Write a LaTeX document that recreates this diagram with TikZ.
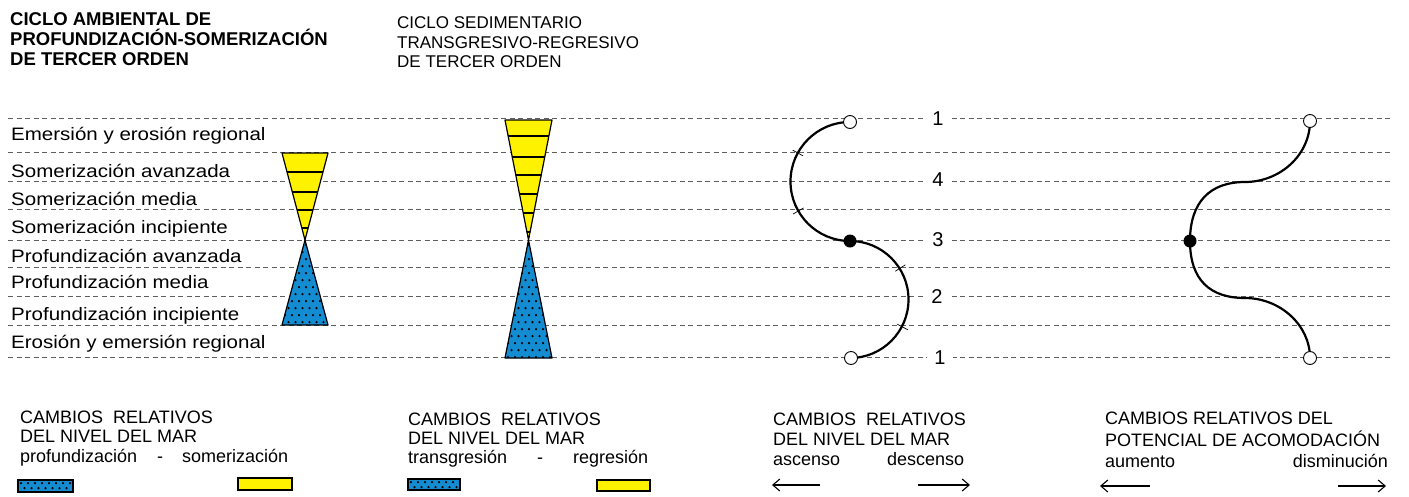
\documentclass[tikz,border=0pt]{standalone}
\usepackage{fontspec}
\setmainfont{Liberation Sans}
\newfontfamily\labfont[FakeStretch=1.14]{Liberation Sans}
\usetikzlibrary{arrows.meta}
\definecolor{seablue}{RGB}{20,140,210}
\definecolor{shallowyel}{RGB}{255,242,0}
\definecolor{dashgray}{RGB}{95,95,95}
% #1 x0, #2 x0+7, #3 xmax, #4 y0, #5 y0+7, #6 ymax
\newcommand{\bluedots}[6]{%
  \foreach \yy in {#4,#5,...,#6}{%
    \pgfmathsetmacro{\off}{mod(round((\yy-#4)/7),2)*3.5}%
    \foreach \xx in {#1,#2,...,#3}{%
      \fill[black] (\xx+\off,\yy) circle[radius=1.25];}}}
\tikzset{
  dashline/.style={draw=dashgray,line width=0.9pt,dash pattern=on 5pt off 3.5pt},
  tri/.style={draw=black,line width=1.2pt,line join=round},
  stripe/.style={draw=black,line width=1.6pt},
  lab/.style={anchor=base west,inner sep=0pt,font=\labfont\fontsize{18}{20}\selectfont},
  titb/.style={anchor=base west,inner sep=0pt,font=\fontsize{18.5}{20}\selectfont\bfseries},
  titr/.style={anchor=base west,inner sep=0pt,font=\fontsize{17}{20}\selectfont},
  leg/.style={anchor=base west,inner sep=0pt,font=\fontsize{18}{20}\selectfont},
  numlab/.style={fill=white,inner xsep=7pt,inner ysep=1pt,font=\fontsize{20}{22}\selectfont},
  curve/.style={draw=black,line width=2.2pt},
  opencirc/.style={circle,draw=black,fill=white,line width=0.9pt,minimum size=13pt,inner sep=0pt},
  fullcirc/.style={circle,fill=black,minimum size=13pt,inner sep=0pt},
  tick/.style={draw=black,line width=0.7pt},
  legarrow/.style={draw=black,line width=1.1pt,-{Straight Barb[length=7pt,width=12pt]}},
  legbox/.style={draw=black,line width=1.1pt}
}
\begin{document}
\begin{tikzpicture}[x=1pt,y=-1pt]
\useasboundingbox (0,0) rectangle (1409,496);
\fill[white] (0,0) rectangle (1409,496);

% titles
\node[titb] (ta1) at (10,25) {CICLO AMBIENTAL DE};
\node[titb] (ta2) at (10,45) {PROFUNDIZACIÓN-SOMERIZACIÓN};
\node[titb] (ta3) at (10,65) {DE TERCER ORDEN};
\node[titr] (tb1) at (397,28) {CICLO SEDIMENTARIO};
\node[titr] (tb2) at (397,48) {TRANSGRESIVO-REGRESIVO};
\node[titr] (tb3) at (397,67) {DE TERCER ORDEN};

% dashed horizontal guide lines
\foreach \yy in {118,152,181,209,240,267,296,325,357}
  \draw[dashline] (8,\yy) -- (1393,\yy);

% left labels
\node[lab] (l1) at (11,140) {Emersión y erosión regional};
\node[lab] (l2) at (11,177) {Somerización avanzada};
\node[lab] (l3) at (11,205) {Somerización media};
\node[lab] (l4) at (11,233) {Somerización incipiente};
\node[lab] (l5) at (11,262) {Profundización avanzada};
\node[lab] (l6) at (11,288) {Profundización media};
\node[lab] (l7) at (11,320) {Profundización incipiente};
\node[lab] (l8) at (11,348) {Erosión y emersión regional};

% hourglass 1
\begin{scope}
  \clip (282,153) -- (328,153) -- (305,240) -- cycle;
  \fill[shallowyel] (270,150) rectangle (340,242);
  \foreach \yy in {172,192,210,228} \draw[stripe] (270,\yy) -- (340,\yy);
\end{scope}
\draw[tri] (282,153) -- (328,153) -- (305,240) -- cycle;
\begin{scope}
  \clip (305,240) -- (282,325) -- (328,325) -- cycle;
  \fill[seablue] (270,238) rectangle (340,327);
  \bluedots{278}{285}{330}{245}{252}{325}
\end{scope}
\draw[tri] (305,240) -- (282,325) -- (328,325) -- cycle;

% hourglass 2
\begin{scope}
  \clip (505,120) -- (552,120) -- (528.5,240) -- cycle;
  \fill[shallowyel] (495,118) rectangle (560,242);
  \foreach \yy in {136,157,175,194,213,232} \draw[stripe] (495,\yy) -- (560,\yy);
\end{scope}
\draw[tri] (505,120) -- (552,120) -- (528.5,240) -- cycle;
\begin{scope}
  \clip (528.5,240) -- (505,358) -- (552,358) -- cycle;
  \fill[seablue] (495,238) rectangle (560,360);
  \bluedots{501}{508}{556}{245}{252}{358}
\end{scope}
\draw[tri] (528.5,240) -- (505,358) -- (552,358) -- cycle;

% curve 1: sea level
\node[numlab] (n1) at (938,119) {1};
\node[numlab] (n4) at (938,180) {4};
\node[numlab] (n3) at (938,240) {3};
\node[numlab] (n2) at (937,297) {2};
\node[numlab] (n5) at (940,358) {1};
\coordinate (ca) at (850,122);
\coordinate (cb) at (850,241);
\coordinate (cc) at (851,358);
\draw[curve] (ca) arc[start angle=270,end angle=90,radius=59.5]
             arc[start angle=-90,end angle=90,radius=58.5];
\draw[tick] (803.1,155.9) -- (792.6,150.1);
\draw[tick] (803.5,208.0) -- (793.1,214.0);
\draw[tick] (895.3,271.2) -- (905.4,264.8);
\draw[tick] (897.3,324.2) -- (907.9,329.8);
\node[opencirc] (c1top) at (ca) {};
\node[fullcirc] (c1mid) at (cb) {};
\node[opencirc] (c1bot) at (cc) {};

% curve 2: accommodation
\coordinate (da) at (1310,121);
\coordinate (db) at (1190,241);
\coordinate (dc) at (1310,358);
\draw[curve] (da) .. controls (1310,155) and (1280,182) .. (1245,182)
   .. controls (1210,182) and (1190,202) .. (db)
   .. controls (1190,280) and (1210,298) .. (1245,298)
   .. controls (1280,298) and (1310,325) .. (dc);
\node[opencirc] (c2top) at (da) {};
\node[fullcirc] (c2mid) at (db) {};
\node[opencirc] (c2bot) at (dc) {};

% legend column 1
\node[leg] (a1) at (20,423) {CAMBIOS\ \ RELATIVOS};
\node[leg] (a2) at (20,442) {DEL NIVEL DEL MAR};
\node[leg] (a3) at (20,462) {profundización};
\node[leg,anchor=base] (a4) at (160,462) {-};
\node[leg] (a5) at (182,462) {somerización};
\begin{scope}
  \clip (18,480) rectangle (73,492);
  \fill[seablue] (18,480) rectangle (73,492);
  \bluedots{21}{28}{73}{483}{488}{492}
\end{scope}
\draw[legbox] (18,480) rectangle (73,492);
\fill[shallowyel] (238,478) rectangle (292,490);
\draw[legbox] (238,478) rectangle (292,490);

% legend column 2
\node[leg] (b1) at (408,425) {CAMBIOS\ \ RELATIVOS};
\node[leg] (b2) at (408,444) {DEL NIVEL DEL MAR};
\node[leg] (b3) at (408,463) {transgresión};
\node[leg,anchor=base] (b4) at (540,463) {-};
\node[leg] (b5) at (573,463) {regresión};
\begin{scope}
  \clip (408,479) rectangle (460,490);
  \fill[seablue] (408,479) rectangle (460,490);
  \bluedots{411}{418}{460}{482}{487}{490}
\end{scope}
\draw[legbox] (408,479) rectangle (460,490);
\fill[shallowyel] (597,480) rectangle (650,491);
\draw[legbox] (597,480) rectangle (650,491);

% legend column 3
\node[leg] (e1) at (773,425) {CAMBIOS\ \ RELATIVOS};
\node[leg] (e2) at (773,445) {DEL NIVEL DEL MAR};
\node[leg] (e3) at (773,465) {ascenso};
\node[leg] (e4) at (887,465) {descenso};
\coordinate (e5a) at (820,485);
\coordinate (e5b) at (772,485);
\coordinate (e6a) at (918,485);
\coordinate (e6b) at (970,485);
\draw[legarrow] (e5a) -- (e5b);
\draw[legarrow] (e6a) -- (e6b);

% legend column 4
\node[leg] (f1) at (1105,424) {CAMBIOS RELATIVOS DEL};
\node[leg] (f2) at (1105,446) {POTENCIAL DE ACOMODACIÓN};
\node[leg] (f3) at (1105,467) {aumento};
\node[leg,anchor=base east] (f4) at (1388,467) {disminución};
\coordinate (f5a) at (1150,486);
\coordinate (f5b) at (1100,486);
\coordinate (f6a) at (1338,486);
\coordinate (f6b) at (1386,486);
\draw[legarrow] (f5a) -- (f5b);
\draw[legarrow] (f6a) -- (f6b);
\end{tikzpicture}
\end{document}
